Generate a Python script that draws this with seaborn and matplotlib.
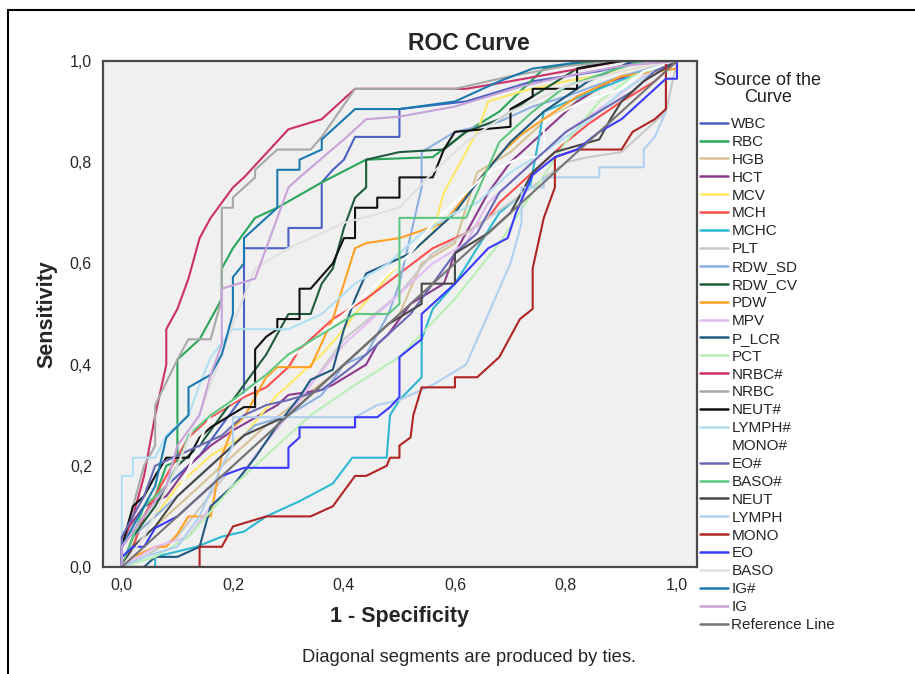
import pandas as pd
import numpy as np
import seaborn as sns
import matplotlib.pyplot as plt
from matplotlib.lines import Line2D
from matplotlib.patches import Rectangle

# ROC curve points (1 - specificity, sensitivity)
WBC_X = [0, 0, 0.04, 0.06, 0.10, 0.14, 0.18, 0.22, 0.22, 0.30, 0.30, 0.36, 0.36, 0.38, 0.40, 0.42, 0.50, 0.50, 0.62, 0.74, 0.86, 0.94, 1]
WBC_Y = [0, 0.04, 0.10, 0.14, 0.18, 0.22, 0.28, 0.34, 0.63, 0.63, 0.67, 0.67, 0.76, 0.785, 0.805, 0.85, 0.85, 0.905, 0.92, 0.96, 0.98, 1.0, 1]
RBC_X = [0, 0.02, 0.04, 0.06, 0.08, 0.10, 0.10, 0.14, 0.16, 0.18, 0.18, 0.20, 0.24, 0.28, 0.36, 0.44, 0.56, 0.62, 0.68, 0.76, 0.86, 1]
RBC_Y = [0, 0.04, 0.10, 0.14, 0.20, 0.21, 0.41, 0.45, 0.49, 0.53, 0.59, 0.63, 0.69, 0.71, 0.76, 0.805, 0.81, 0.86, 0.90, 0.985, 1.0, 1]
HGB_X = [0, 0.04, 0.10, 0.16, 0.20, 0.26, 0.32, 0.38, 0.44, 0.50, 0.54, 0.60, 0.64, 0.70, 0.76, 0.82, 0.88, 0.94, 1]
HGB_Y = [0, 0.06, 0.12, 0.18, 0.22, 0.28, 0.33, 0.38, 0.44, 0.50, 0.60, 0.64, 0.78, 0.82, 0.88, 0.92, 0.96, 0.98, 1]
HCT_X = [0, 0, 0.04, 0.08, 0.12, 0.16, 0.20, 0.28, 0.30, 0.36, 0.38, 0.44, 0.46, 0.48, 0.50, 0.52, 0.58, 0.60, 0.66, 0.70, 0.76, 0.82, 0.88, 0.94, 1]
HCT_Y = [0, 0.06, 0.12, 0.14, 0.20, 0.24, 0.27, 0.32, 0.34, 0.35, 0.36, 0.40, 0.44, 0.46, 0.49, 0.52, 0.56, 0.62, 0.74, 0.80, 0.86, 0.92, 0.96, 0.98, 1]
MCV_X = [0, 0.02, 0.06, 0.10, 0.16, 0.22, 0.28, 0.32, 0.36, 0.40, 0.42, 0.46, 0.50, 0.56, 0.58, 0.62, 0.64, 0.66, 0.72, 0.80, 0.90, 1]
MCV_Y = [0, 0.06, 0.10, 0.16, 0.22, 0.26, 0.34, 0.38, 0.42, 0.47, 0.50, 0.55, 0.60, 0.66, 0.74, 0.82, 0.86, 0.92, 0.94, 0.96, 0.98, 1]
MCH_X = [0, 0.02, 0.04, 0.08, 0.12, 0.16, 0.22, 0.26, 0.30, 0.32, 0.38, 0.44, 0.50, 0.56, 0.62, 0.66, 0.68, 0.74, 0.80, 0.84, 0.90, 0.96, 1]
MCH_Y = [0, 0.04, 0.10, 0.18, 0.256, 0.296, 0.336, 0.355, 0.395, 0.43, 0.49, 0.53, 0.58, 0.63, 0.66, 0.69, 0.72, 0.78, 0.84, 0.875, 0.92, 0.96, 1]
MCHC_X = [0, 0.06, 0.06, 0.135, 0.18, 0.22, 0.26, 0.32, 0.38, 0.415, 0.477, 0.483, 0.50, 0.54, 0.54, 0.56, 0.60, 0.64, 0.68, 0.735, 0.76, 0.86, 0.94, 1]
MCHC_Y = [0, 0, 0.02, 0.04, 0.06, 0.07, 0.10, 0.13, 0.165, 0.216, 0.216, 0.30, 0.33, 0.375, 0.45, 0.51, 0.56, 0.63, 0.70, 0.75, 0.90, 0.945, 0.98, 1]
PLT_X = [0, 0.04, 0.10, 0.20, 0.30, 0.40, 0.50, 0.56, 0.62, 0.70, 0.80, 0.84, 0.90, 0.94, 0.98, 1]
PLT_Y = [0, 0.02, 0.06, 0.20, 0.30, 0.45, 0.54, 0.62, 0.66, 0.72, 0.80, 0.81, 0.82, 0.86, 0.90, 1]
RDW_SD_X = [0, 0.02, 0.06, 0.10, 0.16, 0.20, 0.24, 0.30, 0.36, 0.40, 0.44, 0.48, 0.50, 0.54, 0.54, 0.60, 0.68, 0.74, 0.80, 0.90, 1]
RDW_SD_Y = [0, 0.06, 0.10, 0.14, 0.20, 0.24, 0.28, 0.30, 0.34, 0.40, 0.42, 0.50, 0.56, 0.75, 0.82, 0.86, 0.88, 0.91, 0.93, 0.97, 1]
RDW_CV_X = [0, 0.02, 0.06, 0.10, 0.14, 0.18, 0.22, 0.26, 0.30, 0.34, 0.36, 0.38, 0.40, 0.42, 0.44, 0.44, 0.50, 0.58, 0.62, 0.68, 0.74, 0.82, 0.88, 1]
RDW_CV_Y = [0, 0.06, 0.12, 0.20, 0.24, 0.30, 0.36, 0.42, 0.50, 0.50, 0.56, 0.59, 0.67, 0.73, 0.75, 0.805, 0.82, 0.825, 0.86, 0.885, 0.93, 0.985, 1.0, 1]
PDW_X = [0, 0.02, 0.06, 0.08, 0.10, 0.12, 0.16, 0.18, 0.20, 0.22, 0.26, 0.28, 0.34, 0.38, 0.40, 0.42, 0.44, 0.50, 0.58, 0.68, 0.72, 0.82, 0.90, 1.0, 1]
PDW_Y = [0, 0.02, 0.04, 0.04, 0.065, 0.10, 0.10, 0.22, 0.276, 0.296, 0.375, 0.395, 0.395, 0.49, 0.56, 0.63, 0.64, 0.65, 0.68, 0.815, 0.855, 0.93, 0.97, 0.985, 1]
MPV_X = [0, 0.06, 0.12, 0.16, 0.20, 0.24, 0.30, 0.34, 0.40, 0.46, 0.50, 0.56, 0.62, 0.66, 0.72, 0.80, 0.88, 0.94, 1]
MPV_Y = [0, 0.04, 0.06, 0.12, 0.16, 0.22, 0.30, 0.36, 0.44, 0.50, 0.54, 0.60, 0.64, 0.72, 0.78, 0.86, 0.92, 0.97, 1]
P_LCR_X = [0, 0.04, 0.06, 0.10, 0.14, 0.16, 0.20, 0.24, 0.28, 0.32, 0.34, 0.38, 0.40, 0.42, 0.44, 0.48, 0.52, 0.56, 0.60, 0.64, 0.70, 0.76, 0.84, 0.92, 1]
P_LCR_Y = [0, 0, 0.02, 0.02, 0.04, 0.12, 0.16, 0.216, 0.28, 0.336, 0.37, 0.39, 0.47, 0.53, 0.58, 0.60, 0.62, 0.66, 0.70, 0.76, 0.84, 0.90, 0.96, 1.0, 1]
PCT_X = [0, 0.06, 0.12, 0.20, 0.26, 0.34, 0.42, 0.50, 0.60, 0.68, 0.74, 0.80, 0.86, 0.92, 1]
PCT_Y = [0, 0.02, 0.06, 0.16, 0.22, 0.30, 0.36, 0.415, 0.53, 0.64, 0.74, 0.84, 0.92, 0.97, 1]
NRBC_ABS_X = [0, 0, 0.02, 0.04, 0.06, 0.08, 0.08, 0.10, 0.12, 0.14, 0.16, 0.20, 0.22, 0.30, 0.36, 0.42, 0.62, 0.70, 0.80, 0.90, 1]
NRBC_ABS_Y = [0, 0.04, 0.10, 0.18, 0.30, 0.40, 0.47, 0.51, 0.57, 0.65, 0.69, 0.75, 0.77, 0.865, 0.885, 0.945, 0.945, 0.96, 0.98, 1.0, 1]
NRBC_X = [0, 0, 0.02, 0.04, 0.06, 0.06, 0.10, 0.12, 0.16, 0.18, 0.18, 0.20, 0.20, 0.24, 0.24, 0.28, 0.34, 0.36, 0.42, 0.60, 0.70, 0.80, 0.90, 1]
NRBC_Y = [0, 0.04, 0.12, 0.20, 0.24, 0.32, 0.41, 0.45, 0.45, 0.53, 0.71, 0.71, 0.73, 0.77, 0.785, 0.825, 0.825, 0.85, 0.945, 0.945, 0.97, 0.99, 1.0, 1]
NEUT_ABS_X = [0, 0, 0.02, 0.04, 0.06, 0.08, 0.12, 0.14, 0.16, 0.22, 0.24, 0.24, 0.26, 0.28, 0.28, 0.32, 0.32, 0.34, 0.38, 0.40, 0.42, 0.42, 0.46, 0.46, 0.50, 0.50, 0.56, 0.58, 0.60, 0.70, 0.70, 0.74, 0.74, 0.82, 0.82, 0.90, 1]
NEUT_ABS_Y = [0, 0.04, 0.12, 0.14, 0.18, 0.216, 0.216, 0.256, 0.276, 0.316, 0.316, 0.43, 0.455, 0.47, 0.49, 0.49, 0.55, 0.55, 0.60, 0.65, 0.65, 0.71, 0.71, 0.73, 0.73, 0.77, 0.77, 0.825, 0.86, 0.87, 0.905, 0.93, 0.945, 0.945, 0.985, 1.0, 1]
LYMPH_ABS_X = [0, 0, 0.02, 0.02, 0.06, 0.08, 0.12, 0.14, 0.16, 0.20, 0.30, 0.36, 0.42, 0.48, 0.54, 0.60, 0.64, 0.70, 0.76, 0.84, 0.90, 0.96, 1]
LYMPH_ABS_Y = [0, 0.18, 0.18, 0.216, 0.216, 0.26, 0.30, 0.36, 0.415, 0.47, 0.47, 0.50, 0.56, 0.60, 0.66, 0.70, 0.72, 0.78, 0.82, 0.88, 0.94, 0.98, 1]
MONO_ABS_X = [0, 0.04, 0.10, 0.16, 0.22, 0.28, 0.34, 0.40, 0.46, 0.52, 0.56, 0.60, 0.66, 0.72, 0.76, 0.76, 0.82, 0.90, 0.94, 1]
MONO_ABS_Y = [0, 0.06, 0.14, 0.30, 0.34, 0.40, 0.44, 0.50, 0.56, 0.62, 0.68, 0.72, 0.78, 0.81, 0.81, 0.88, 0.915, 0.945, 0.98, 1]
EO_ABS_X = [0, 0, 0.02, 0.04, 0.06, 0.10, 0.14, 0.18, 0.22, 0.26, 0.30, 0.36, 0.42, 0.46, 0.52, 0.56, 0.60, 0.64, 0.68, 0.74, 0.80, 0.86, 0.92, 0.96, 1]
EO_ABS_Y = [0, 0.06, 0.10, 0.14, 0.20, 0.22, 0.24, 0.26, 0.30, 0.32, 0.33, 0.35, 0.40, 0.44, 0.50, 0.56, 0.62, 0.66, 0.74, 0.80, 0.86, 0.90, 0.94, 0.98, 1]
BASO_ABS_X = [0, 0.02, 0.04, 0.08, 0.10, 0.12, 0.16, 0.20, 0.26, 0.30, 0.36, 0.42, 0.48, 0.50, 0.50, 0.62, 0.68, 0.74, 0.80, 0.88, 0.94, 1]
BASO_ABS_Y = [0, 0.06, 0.12, 0.16, 0.20, 0.26, 0.30, 0.33, 0.38, 0.42, 0.46, 0.50, 0.50, 0.52, 0.69, 0.69, 0.84, 0.90, 0.95, 0.98, 1.0, 1]
NEUT_X = [0, 0.02, 0.06, 0.10, 0.16, 0.22, 0.30, 0.36, 0.42, 0.48, 0.54, 0.54, 0.60, 0.60, 0.66, 0.70, 0.74, 0.78, 0.86, 0.88, 0.90, 0.94, 1]
NEUT_Y = [0, 0.04, 0.08, 0.14, 0.20, 0.26, 0.30, 0.36, 0.42, 0.48, 0.52, 0.56, 0.56, 0.62, 0.66, 0.70, 0.78, 0.82, 0.845, 0.885, 0.92, 0.96, 1]
LYMPH_X = [0, 0.04, 0.10, 0.14, 0.18, 0.20, 0.20, 0.42, 0.46, 0.50, 0.56, 0.62, 0.66, 0.70, 0.72, 0.72, 0.76, 0.76, 0.86, 0.86, 0.94, 0.94, 0.96, 0.98, 0.98, 1]
LYMPH_Y = [0, 0.02, 0.04, 0.10, 0.20, 0.24, 0.296, 0.296, 0.32, 0.33, 0.36, 0.40, 0.50, 0.60, 0.68, 0.75, 0.75, 0.77, 0.77, 0.79, 0.79, 0.825, 0.85, 0.90, 1.0, 1]
MONO_X = [0, 0.14, 0.14, 0.18, 0.20, 0.26, 0.34, 0.38, 0.42, 0.44, 0.477, 0.483, 0.50, 0.50, 0.52, 0.525, 0.54, 0.60, 0.60, 0.64, 0.68, 0.717, 0.74, 0.74, 0.76, 0.78, 0.78, 0.82, 0.90, 0.92, 0.96, 0.98, 0.98, 1]
MONO_Y = [0, 0, 0.04, 0.04, 0.08, 0.10, 0.10, 0.12, 0.18, 0.18, 0.20, 0.216, 0.216, 0.24, 0.256, 0.30, 0.355, 0.355, 0.375, 0.375, 0.415, 0.49, 0.51, 0.59, 0.69, 0.75, 0.81, 0.825, 0.825, 0.86, 0.885, 0.905, 1.0, 1]
EO_X = [0, 0, 0.02, 0.04, 0.06, 0.10, 0.14, 0.18, 0.22, 0.30, 0.30, 0.32, 0.32, 0.42, 0.42, 0.46, 0.483, 0.50, 0.50, 0.54, 0.54, 0.60, 0.66, 0.695, 0.71, 0.74, 0.78, 0.82, 0.86, 0.90, 0.915, 0.98, 1.0, 1]
EO_Y = [0, 0.02, 0.04, 0.04, 0.077, 0.10, 0.14, 0.18, 0.196, 0.196, 0.236, 0.256, 0.276, 0.276, 0.296, 0.296, 0.316, 0.336, 0.415, 0.45, 0.50, 0.56, 0.63, 0.65, 0.70, 0.775, 0.81, 0.825, 0.86, 0.885, 0.90, 0.965, 0.965, 1]
BASO_X = [0, 0.04, 0.10, 0.16, 0.20, 0.24, 0.30, 0.40, 0.50, 0.56, 0.62, 0.70, 0.80, 0.90, 1]
BASO_Y = [0, 0.06, 0.20, 0.36, 0.48, 0.59, 0.63, 0.68, 0.71, 0.78, 0.84, 0.90, 0.95, 0.98, 1]
IG_ABS_X = [0, 0, 0.02, 0.04, 0.06, 0.08, 0.12, 0.12, 0.16, 0.18, 0.20, 0.20, 0.22, 0.22, 0.28, 0.28, 0.32, 0.32, 0.36, 0.36, 0.42, 0.50, 0.60, 0.68, 0.74, 0.84, 1]
IG_ABS_Y = [0, 0.04, 0.08, 0.12, 0.16, 0.256, 0.30, 0.355, 0.38, 0.42, 0.50, 0.573, 0.60, 0.65, 0.71, 0.785, 0.785, 0.805, 0.825, 0.845, 0.905, 0.905, 0.92, 0.96, 0.985, 1.0, 1]
IG_X = [0, 0, 0.04, 0.08, 0.10, 0.14, 0.16, 0.18, 0.18, 0.24, 0.30, 0.32, 0.40, 0.44, 0.50, 0.60, 0.66, 0.72, 0.80, 0.90, 1]
IG_Y = [0, 0.04, 0.10, 0.16, 0.24, 0.30, 0.38, 0.44, 0.55, 0.57, 0.75, 0.77, 0.845, 0.885, 0.89, 0.91, 0.93, 0.95, 0.97, 0.99, 1]
REF_X = [0, 1]
REF_Y = [0, 1]

names = ['WBC', 'RBC', 'HGB', 'HCT', 'MCV', 'MCH', 'MCHC', 'PLT', 'RDW_SD', 'RDW_CV',
         'PDW', 'MPV', 'P_LCR', 'PCT', 'NRBC#', 'NRBC', 'NEUT#', 'LYMPH#', 'MONO#', 'EO#',
         'BASO#', 'NEUT', 'LYMPH', 'MONO', 'EO', 'BASO', 'IG#', 'IG', 'Reference Line']
xs = [WBC_X, RBC_X, HGB_X, HCT_X, MCV_X, MCH_X, MCHC_X, PLT_X, RDW_SD_X, RDW_CV_X,
      PDW_X, MPV_X, P_LCR_X, PCT_X, NRBC_ABS_X, NRBC_X, NEUT_ABS_X, LYMPH_ABS_X, MONO_ABS_X, EO_ABS_X,
      BASO_ABS_X, NEUT_X, LYMPH_X, MONO_X, EO_X, BASO_X, IG_ABS_X, IG_X, REF_X]
ys = [WBC_Y, RBC_Y, HGB_Y, HCT_Y, MCV_Y, MCH_Y, MCHC_Y, PLT_Y, RDW_SD_Y, RDW_CV_Y,
      PDW_Y, MPV_Y, P_LCR_Y, PCT_Y, NRBC_ABS_Y, NRBC_Y, NEUT_ABS_Y, LYMPH_ABS_Y, MONO_ABS_Y, EO_ABS_Y,
      BASO_ABS_Y, NEUT_Y, LYMPH_Y, MONO_Y, EO_Y, BASO_Y, IG_ABS_Y, IG_Y, REF_Y]
colors = ['#4a62c4', '#2aa65a', '#d6c294', '#8c3a8e', '#ffe866', '#ff4e4e', '#2cb8d2', '#c8c8c8',
          '#8cb0e2', '#1f5c3c', '#ffa024', '#e2bcf2', '#1f5a80', '#b8f0b4', '#cc3068', '#a8a8a8',
          '#111111', '#b2e0f0', '#ffffff', '#6a6ab4', '#5ec882', '#484848', '#b0d0f2', '#b02424',
          '#3a3aff', '#e0e0e0', '#1a7ab0', '#c8a2d8', '#747474']

rows = []
for n, x, y in zip(names, xs, ys):
    for i in range(len(x)):
        rows.append((n, x[i], y[i], i))
df = pd.DataFrame(rows, columns=['curve', 'fpr', 'tpr', 'order'])

sns.set_theme(style="white")
plt.rcParams['font.family'] = ['Liberation Sans', 'DejaVu Sans']

fig = plt.figure(figsize=(9.15, 6.74), dpi=100)
ax = fig.add_axes([103/915, 107/674, 594/915, 506/674])
ax.set_facecolor('#f0f0f0')

sns.lineplot(data=df, x='fpr', y='tpr', hue='curve', hue_order=names,
             palette=dict(zip(names, colors)), sort=False, estimator=None,
             linewidth=1.5, legend=False, ax=ax)

ax.set_xlim(-0.034, 1.036)
ax.set_ylim(0, 1)
ticks = [0, 0.2, 0.4, 0.6, 0.8, 1.0]
tick_labels = ['0,0', '0,2', '0,4', '0,6', '0,8', '1,0']
ax.set_xticks(ticks)
ax.set_yticks(ticks)
ax.set_xticklabels(tick_labels)
ax.set_yticklabels(tick_labels)
ax.tick_params(direction='out', length=6.5, width=1.4, color='#404040', labelsize=11.5, pad=1.5)
for s in ax.spines.values():
    s.set_color('#4a4a4a')
    s.set_linewidth(1.6)
ax.set_xlabel('1 - Specificity', fontsize=15.5, fontweight='bold')
ax.set_ylabel('Sensitivity', fontsize=15.5, fontweight='bold')
ax.xaxis.set_label_coords(0.5, -0.078)
ax.yaxis.set_label_coords(-0.076, 0.5)

fig.text(469/915, 1 - 43/674, 'ROC Curve', ha='center', va='center', fontsize=16.5, fontweight='bold')
fig.text(469/915, 1 - 657/674, 'Diagonal segments are produced by ties.', ha='center', va='center', fontsize=13.2)
fig.text(768/915, 1 - 89/674, 'Source of the\nCurve', ha='center', va='center', fontsize=13,
         linespacing=1.0, color='#222222')

handles = [Line2D([], [], color=c, lw=1.8) for c in colors]
fig.legend(handles, names, loc='upper left', bbox_to_anchor=(700/915, 1 - 117/674),
           frameon=False, fontsize=11, handlelength=1.85, handletextpad=0.2,
           labelspacing=0.255, borderaxespad=0, borderpad=0)

fig.patches.append(Rectangle((8/915, -0.5), 2, 1.5 - 10/674, transform=fig.transFigure,
                             fill=False, edgecolor='black', linewidth=1.5))

fig.savefig('out.png', dpi=100, facecolor='white')
